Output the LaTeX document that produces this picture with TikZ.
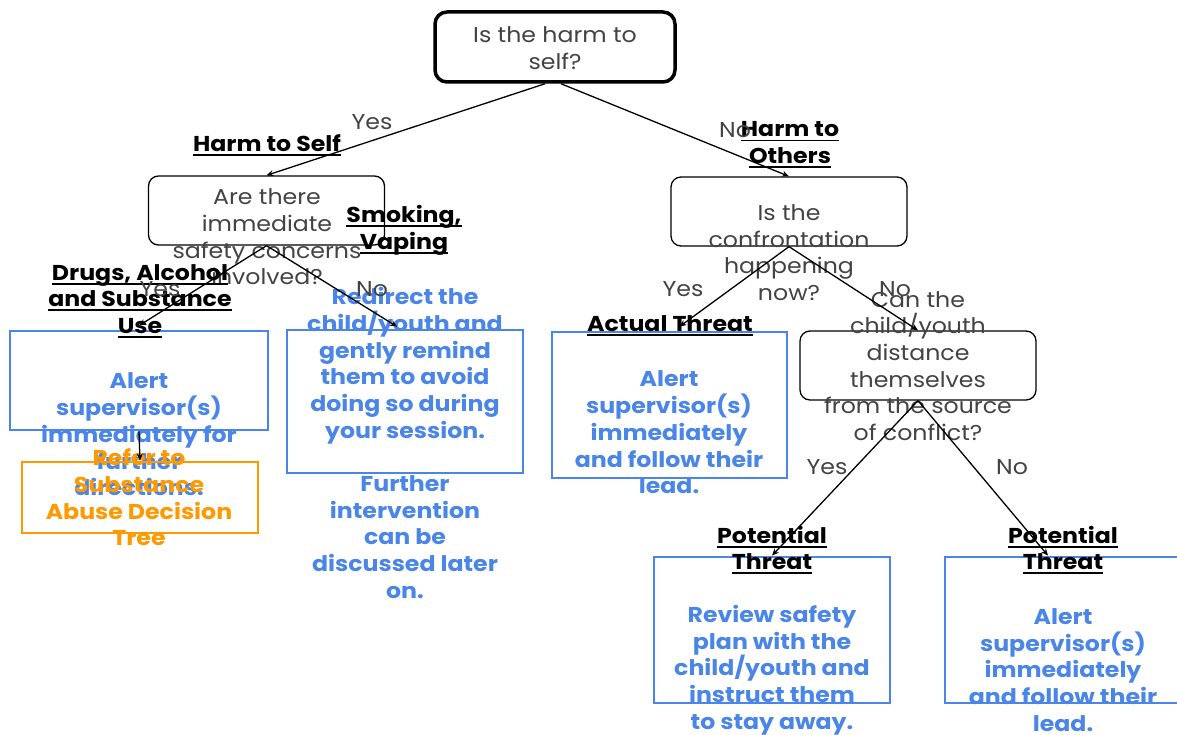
\documentclass[tikz,border=0pt]{standalone}
\usepackage{fontspec}
\setmainfont[FakeStretch=1.1]{Poppins}
\usetikzlibrary{arrows.meta}
\definecolor{qgray}{HTML}{434343}
\definecolor{actblue}{HTML}{4A86E8}
\definecolor{refor}{HTML}{FF9900}
% underline one line of a category heading
\newcommand\ulword[1]{\setbox0\hbox{#1}\rlap{\rule[-4.5pt]{\wd0}{1.8pt}}\box0}

\begin{document}
\begin{tikzpicture}[x=1pt,y=-1pt,
  every node/.style={font=\fontsize{21.5}{26.7}\selectfont, align=center, inner sep=0pt},
  qbox/.style={draw=black, line width=1.3pt, rounded corners=10pt,
               minimum width=236pt, minimum height=69pt},
  topbox/.style={qbox, line width=3.5pt, rounded corners=12pt,
               minimum width=240pt, minimum height=70pt},
  actbox/.style={draw=actblue, line width=2.8pt, minimum width=236pt, minimum height=146pt},
  refbox/.style={draw=refor, line width=2.8pt, minimum width=236pt, minimum height=71pt},
  qtext/.style={text=qgray},
  cattext/.style={text=black, font=\fontsize{21.5}{26.7}\selectfont\bfseries},
  acttext/.style={text=actblue, font=\fontsize{21.5}{26.7}\selectfont\bfseries},
  reftext/.style={text=refor, font=\fontsize{21.5}{26.7}\selectfont\bfseries},
  elabel/.style={text=qgray},
  conn/.style={draw=black, line width=1.3pt, -{Stealth[length=7pt,width=6pt]}}
]
\useasboundingbox[fill=white] (0,0) rectangle (1177,735);

% ---- boxes ----
\node[topbox] (q1) at (555,47) {};
\node[qbox] (q2) at (266.5,210.5) {};
\node[qbox] (q3) at (789,211.5) {};
\node[qbox] (q4) at (918,365.5) {};
\node[actbox, minimum width=258pt, minimum height=99pt] (a1) at (139,380.5) {};
\node[actbox, minimum height=143pt] (a2) at (405,401.5) {};
\node[actbox, minimum width=235pt] (a3) at (669.5,405) {};
\node[actbox] (a4) at (772,630) {};
\node[actbox] (a5) at (1063,630) {};

% ---- questions ----
\node[qtext] (t1) at (555,48) {Is the harm to\\self?};
\node[qtext] (t2) at (267,237) {Are there\\immediate\\safety concerns\\involved?};
\node[qtext] (t3) at (789,252.5) {Is the\\confrontation\\happening\\now?};
\node[qtext] (t4) at (918,366) {Can the\\child/youth\\distance\\themselves\\from the source\\of conflict?};

% ---- actions ----
\node[acttext] (x1) at (139,434.5) {Alert\\supervisor(s)\\immediately for\\further\\directions.};
\node[acttext] (x2) at (405,443) {Redirect the\\child/youth and\\gently remind\\them to avoid\\doing so during\\your session.\\\mbox{}\\Further\\intervention\\can be\\discussed later\\on.};
\node[acttext] (x3) at (669,432.5) {Alert\\supervisor(s)\\immediately\\and follow their\\lead.};
\node[acttext] (x4) at (772,670) {Review safety\\plan with the\\child/youth and\\instruct them\\to stay away.};
\node[acttext] (x5) at (1063,670) {Alert\\supervisor(s)\\immediately\\and follow their\\lead.};

% ---- referral ----
\node[refbox] (r1) at (140,497.5) {};
\node[reftext] (rt) at (139,497.5) {Refer to\\Substance\\Abuse Decision\\Tree};

% ---- category headings ----
\node[cattext] (c1) at (267,145) {\ulword{Harm to Self}};
\node[cattext] (c2) at (790,145) {\ulword{Harm to}\\\ulword{Others}};
\node[cattext] (c3) at (404,230) {\ulword{Smoking,}\\\ulword{Vaping}};
\node[cattext] (c4) at (140,301) {\ulword{Drugs, Alcohol}\\\ulword{and Substance}\\\ulword{Use}};
\node[cattext] (c5) at (670,326) {\ulword{Actual Threat}};
\node[cattext] (c6) at (772,550) {\ulword{Potential}\\\ulword{Threat}};
\node[cattext] (c7) at (1063,550) {\ulword{Potential}\\\ulword{Threat}};

% ---- branch labels ----
\node[elabel] (l1) at (372,122) {Yes};
\node[elabel] (l2) at (735,130) {No};
\node[elabel] (l3) at (160,289) {Yes};
\node[elabel] (l4) at (372,289) {No};
\node[elabel] (l5) at (683,289) {Yes};
\node[elabel] (l6) at (895,289) {No};
\node[elabel] (l7) at (827,467) {Yes};
\node[elabel] (l8) at (1012,467) {No};

% ---- connectors ----
\draw[conn] ([xshift=-10pt]q1.south) -- (q2.north);
\draw[conn] ([xshift=6pt]q1.south) -- (q3.north);
\draw[conn] (q2.south) -- ([yshift=4pt]a1.north);
\draw[conn] (q2.south) -- ([xshift=-8pt,yshift=2pt]a2.north);
\draw[conn] (q3.south) -- ([xshift=10pt,yshift=4pt]a3.north);
\draw[conn] (q3.south) -- (q4.north);
\draw[conn] (q4.south) -- (a4.north);
\draw[conn] (q4.south) -- ([xshift=-15pt]a5.north);
\draw[conn] (a1.south) -- (r1.north);
\end{tikzpicture}
\end{document}
